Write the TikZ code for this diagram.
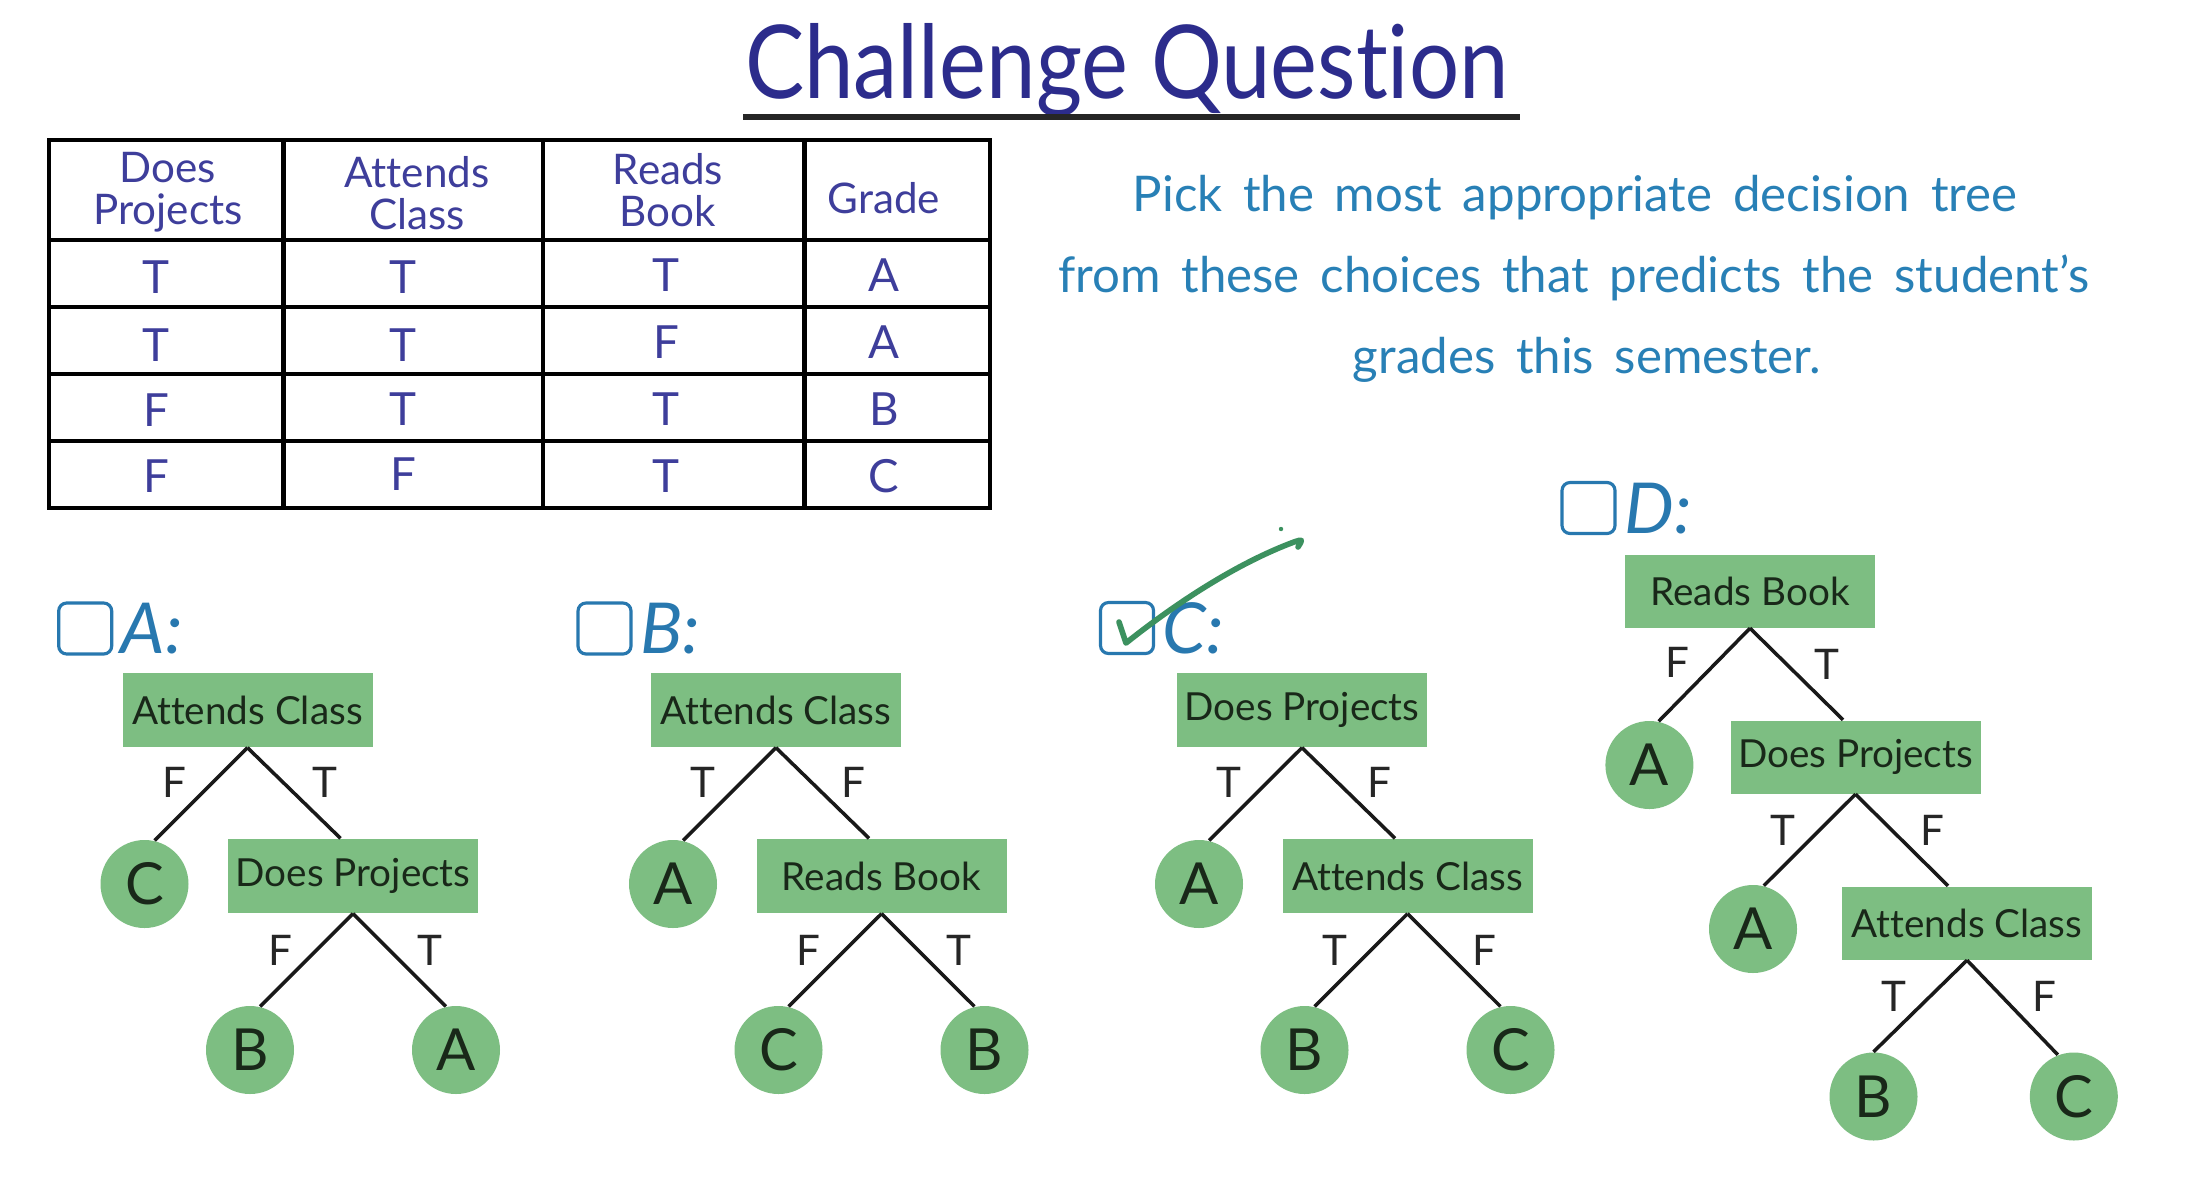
\documentclass[tikz,border=0pt]{standalone}
\usepackage{fontspec}
\setmainfont[Ligatures=NoCommon]{Lato}
\newfontfamily\titlefont[FakeStretch=0.87,Ligatures=NoCommon]{Lato}
\usetikzlibrary{calc}
\definecolor{titleblue}{RGB}{44,44,140}
\definecolor{tabletext}{RGB}{62,62,155}
\definecolor{instrblue}{RGB}{40,128,182}
\definecolor{optblue}{RGB}{40,120,175}
\definecolor{nodegreen}{RGB}{125,190,130}
\definecolor{checkgreen}{RGB}{60,145,95}
\definecolor{nodetext}{RGB}{25,40,25}
\newcommand\instrfont{\fontsize{14}{14}\selectfont\spaceskip=0.42em plus 0.1em\relax}
\begin{document}
\begin{tikzpicture}[x=0.1mm,y=-0.1mm,
  tabline/.style={line width=1.3pt, draw=black},
  hdr/.style={align=center, inner sep=0pt, text=tabletext, font=\fontsize{12}{12}\selectfont},
  cell/.style={inner sep=0pt, text=tabletext, font=\fontsize{13}{13}\selectfont},
  instr/.style={anchor=base, inner sep=0pt, text=instrblue, font=\instrfont},
  chkbox/.style={draw=optblue, line width=0.9pt, rounded corners=0.8mm, minimum width=5.3mm, minimum height=5.1mm, inner sep=0pt},
  optlbl/.style={anchor=base west, inner sep=0pt, text=optblue, font=\fontsize{20}{20}\selectfont\itshape},
  test/.style={rectangle, fill=nodegreen, minimum width=25mm, minimum height=7.4mm, inner sep=0pt, text=nodetext, font=\fontsize{11}{11}\selectfont},
  leaf/.style={circle, fill=nodegreen, minimum size=8.8mm, inner sep=0pt, text=nodetext, font=\fontsize{16.5}{16.5}\selectfont},
  edge/.style={line width=1pt, draw=black!90},
  blbl/.style={inner sep=0pt, text=black!85, font=\fontsize{12}{12}\selectfont}
]
\useasboundingbox (0,0) rectangle (2190,1182);
\fill[white] (0,0) rectangle (2190,1182);

% title
\node[anchor=base, inner sep=0pt, text=titleblue, font=\titlefont\fontsize{29}{29}\selectfont] (title) at (1127,98) {Challenge Question};
\draw[line width=1.7pt, draw=black!85] (743,117) -- (1520,117);

% table
\draw[tabline] (49,140) rectangle (990,508);
\foreach \xx in {283.5,543,804.5} \draw[tabline] (\xx,140) -- (\xx,508);
\foreach \yy in {240,307,374,441} \draw[tabline] (49,\yy) -- (990,\yy);
\node[hdr] (h1) at (168,192) {Does\\Projects};
\node[hdr] (h2) at (417,193) {Attends\\Class};
\node[hdr] (h3) at (668,190) {Reads\\Book};
\node[hdr] (h4) at (884,198) {Grade};
\node[cell] (r11) at (156,277) {T};
\node[cell] (r12) at (403,277) {T};
\node[cell] (r13) at (666,275) {T};
\node[cell] (r14) at (884,275) {A};
\node[cell] (r21) at (156,345) {T};
\node[cell] (r22) at (403,345) {T};
\node[cell] (r23) at (666,342) {F};
\node[cell] (r24) at (884,342) {A};
\node[cell] (r31) at (156,410) {F};
\node[cell] (r32) at (403,409) {T};
\node[cell] (r33) at (666,409) {T};
\node[cell] (r34) at (884,409) {B};
\node[cell] (r41) at (156,476) {F};
\node[cell] (r42) at (403,474) {F};
\node[cell] (r43) at (666,476) {T};
\node[cell] (r44) at (884,476) {C};

% instruction
\node[instr] (i1) at (1575,211) {Pick the most appropriate decision tree};
\node[instr] (i2) at (1574,292) {from these choices that predicts the student's};
\node[instr] (i3) at (1587,373) {grades this semester.};

% option labels
\node[chkbox] (boxA) at (85.2,628.5) {};
\node[optlbl] (lblA) at ($(boxA.south east)+(7,-2)$) {A:};
\node[chkbox] (boxB) at (604.5,628.5) {};
\node[optlbl] (lblB) at ($(boxB.south east)+(7,-2)$) {B:};
\node[chkbox] (boxC) at (1127,628) {};
\node[optlbl] (lblC) at ($(boxC.south east)+(7,-2)$) {C:};
\node[chkbox] (boxD) at (1588.5,508) {};
\node[optlbl] (lblD) at ($(boxD.south east)+(7,-2)$) {D:};

% check mark
\draw[checkgreen, line width=1.6pt, line cap=round, line join=round]
  (1119,622) .. controls (1122,632) .. (1126,643)
  .. controls (1180,600) and (1240,562) .. (1294,542)
  .. controls (1303,539) .. (1298,547);
\fill[checkgreen] (1281,529) circle (2.2);

% tree A
\node[test] (a0) at (247.5,710) {Attends Class};
\node[leaf] (a1) at (144.5,884) {C};
\node[test] (a2) at (353,876) {Does Projects};
\node[leaf] (a3) at (250,1050) {B};
\node[leaf] (a4) at (456,1050) {A};
\draw[edge] (a0.south) -- (a1.77);
\draw[edge] (a0.south) -- ($(a2.north)+(-12.5,0)$);
\draw[edge] (a2.south) -- (a3.77);
\draw[edge] (a2.south) -- (a4.103);
\node[blbl] (a0f) at ($(a0.south)+(-73,35)$) {F};
\node[blbl] (a0t) at ($(a0.south)+(77,35)$) {T};
\node[blbl] (a2f) at ($(a2.south)+(-73,37)$) {F};
\node[blbl] (a2t) at ($(a2.south)+(77,37)$) {T};

% tree B
\node[test] (b0) at (776,710) {Attends Class};
\node[leaf] (b1) at (673,884) {A};
\node[test] (b2) at (881.5,876) {Reads Book};
\node[leaf] (b3) at (778.5,1050) {C};
\node[leaf] (b4) at (984.5,1050) {B};
\draw[edge] (b0.south) -- (b1.77);
\draw[edge] (b0.south) -- ($(b2.north)+(-12.5,0)$);
\draw[edge] (b2.south) -- (b3.77);
\draw[edge] (b2.south) -- (b4.103);
\node[blbl] (b0t) at ($(b0.south)+(-73,35)$) {T};
\node[blbl] (b0f) at ($(b0.south)+(77,35)$) {F};
\node[blbl] (b2f) at ($(b2.south)+(-73,37)$) {F};
\node[blbl] (b2t) at ($(b2.south)+(77,37)$) {T};

% tree C
\node[test] (c0) at (1302,710) {Does Projects};
\node[leaf] (c1) at (1199,884) {A};
\node[test] (c2) at (1407.5,876) {Attends Class};
\node[leaf] (c3) at (1304.5,1050) {B};
\node[leaf] (c4) at (1510.5,1050) {C};
\draw[edge] (c0.south) -- (c1.77);
\draw[edge] (c0.south) -- ($(c2.north)+(-12.5,0)$);
\draw[edge] (c2.south) -- (c3.77);
\draw[edge] (c2.south) -- (c4.103);
\node[blbl] (c0t) at ($(c0.south)+(-73,35)$) {T};
\node[blbl] (c0f) at ($(c0.south)+(77,35)$) {F};
\node[blbl] (c2t) at ($(c2.south)+(-73,37)$) {T};
\node[blbl] (c2f) at ($(c2.south)+(77,37)$) {F};

% tree D
\node[test, minimum height=7.3mm] (d0) at (1750,591) {Reads Book};
\node[leaf] (d1) at (1649.4,765) {A};
\node[test, minimum height=7.3mm] (d2) at (1855.5,757) {Does Projects};
\node[leaf] (d3) at (1753,929) {A};
\node[test, minimum height=7.3mm] (d4) at (1967,923) {Attends Class};
\node[leaf] (d5) at (1873.5,1096.5) {B};
\node[leaf] (d6) at (2073.8,1096.5) {C};
\draw[edge] (d0.south) -- (d1.78);
\draw[edge] (d0.south) -- ($(d2.north)+(-12.5,0)$);
\draw[edge] (d2.south) -- (d3.76);
\draw[edge] (d2.south) -- ($(d4.north)+(-19,0)$);
\draw[edge] (d4.south) -- (d5.90);
\draw[edge] (d4.south) -- (d6.111);
\node[blbl] (d0f) at ($(d0.south)+(-73,34)$) {F};
\node[blbl] (d0t) at ($(d0.south)+(77,36)$) {T};
\node[blbl] (d2t) at ($(d2.south)+(-73,36)$) {T};
\node[blbl] (d2f) at ($(d2.south)+(77,36)$) {F};
\node[blbl] (d4t) at ($(d4.south)+(-73,36)$) {T};
\node[blbl] (d4f) at ($(d4.south)+(77,36)$) {F};
\end{tikzpicture}
\end{document}
